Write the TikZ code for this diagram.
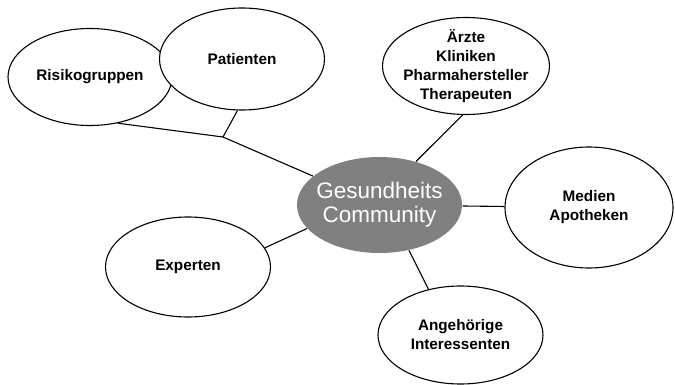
\documentclass[tikz,border=0pt]{standalone}
\usepackage{fontspec}
\setmainfont{Liberation Sans}
\usepackage{tikz}
\usetikzlibrary{shapes.geometric}
\tikzset{every picture/.style={line width=1.1pt}}
\tikzset{
  bubble/.style={ellipse, draw, fill=white, inner sep=0pt},
  bubbletext/.style={align=center, font=\fontsize{15.3}{19}\selectfont\bfseries},
  hub/.style={ellipse, fill=gray, inner sep=0pt},
  hubtext/.style={align=center, text=white, font=\fontsize{22.5}{24}\selectfont}
}

\begin{document}
\begin{tikzpicture}[x=1pt,y=1pt]
\useasboundingbox (0,0) rectangle (675,-385);
\node[hub, minimum width=165pt, minimum height=96pt] (hub) at (379.5,-205) {};
\node[hubtext] (hubtext) at (hub) {Gesundheits\\Community};
%
\node[bubble, minimum width=164pt, minimum height=97pt] (risiko) at (90,-77) {};
\node[bubbletext] (risikotext) at (risiko) {Risikogruppen};
\node[bubble, minimum width=165pt, minimum height=102pt] (patienten) at (242,-59) {};
\node[bubbletext] (patiententext) at (patienten) {Patienten};
\node[bubble, minimum width=167pt, minimum height=97pt] (aerzte) at (466,-66) {};
\node[bubbletext] (aerztetext) at (aerzte) {Ärzte\\Kliniken\\Pharmahersteller\\Therapeuten};
\node[bubble, minimum width=168pt, minimum height=121pt] (medien) at (589,-207.5) {};
\node[bubbletext] (medientext) at (medien) {Medien\\Apotheken};
\node[bubble, minimum width=165pt, minimum height=98pt] (angeh) at (460.5,-335) {};
\node[bubbletext] (angehtext) at (angeh) {Angehörige\\Interessenten};
\node[bubble, minimum width=165pt, minimum height=100pt] (experten) at (188,-267) {};
\node[bubbletext] (expertentext) at (experten) {Experten};
%
\coordinate (knot) at (223,-137);
\draw (risiko.-59) -- (knot) -- (patienten.-95);
\draw (knot) -- (hub);
\draw (aerzte.-94) -- (hub.50);
\draw (hub) -- (medien);
\draw (hub.-57) -- (angeh.125);
\draw (experten.14) -- (hub.-162);
\end{tikzpicture}
\end{document}
